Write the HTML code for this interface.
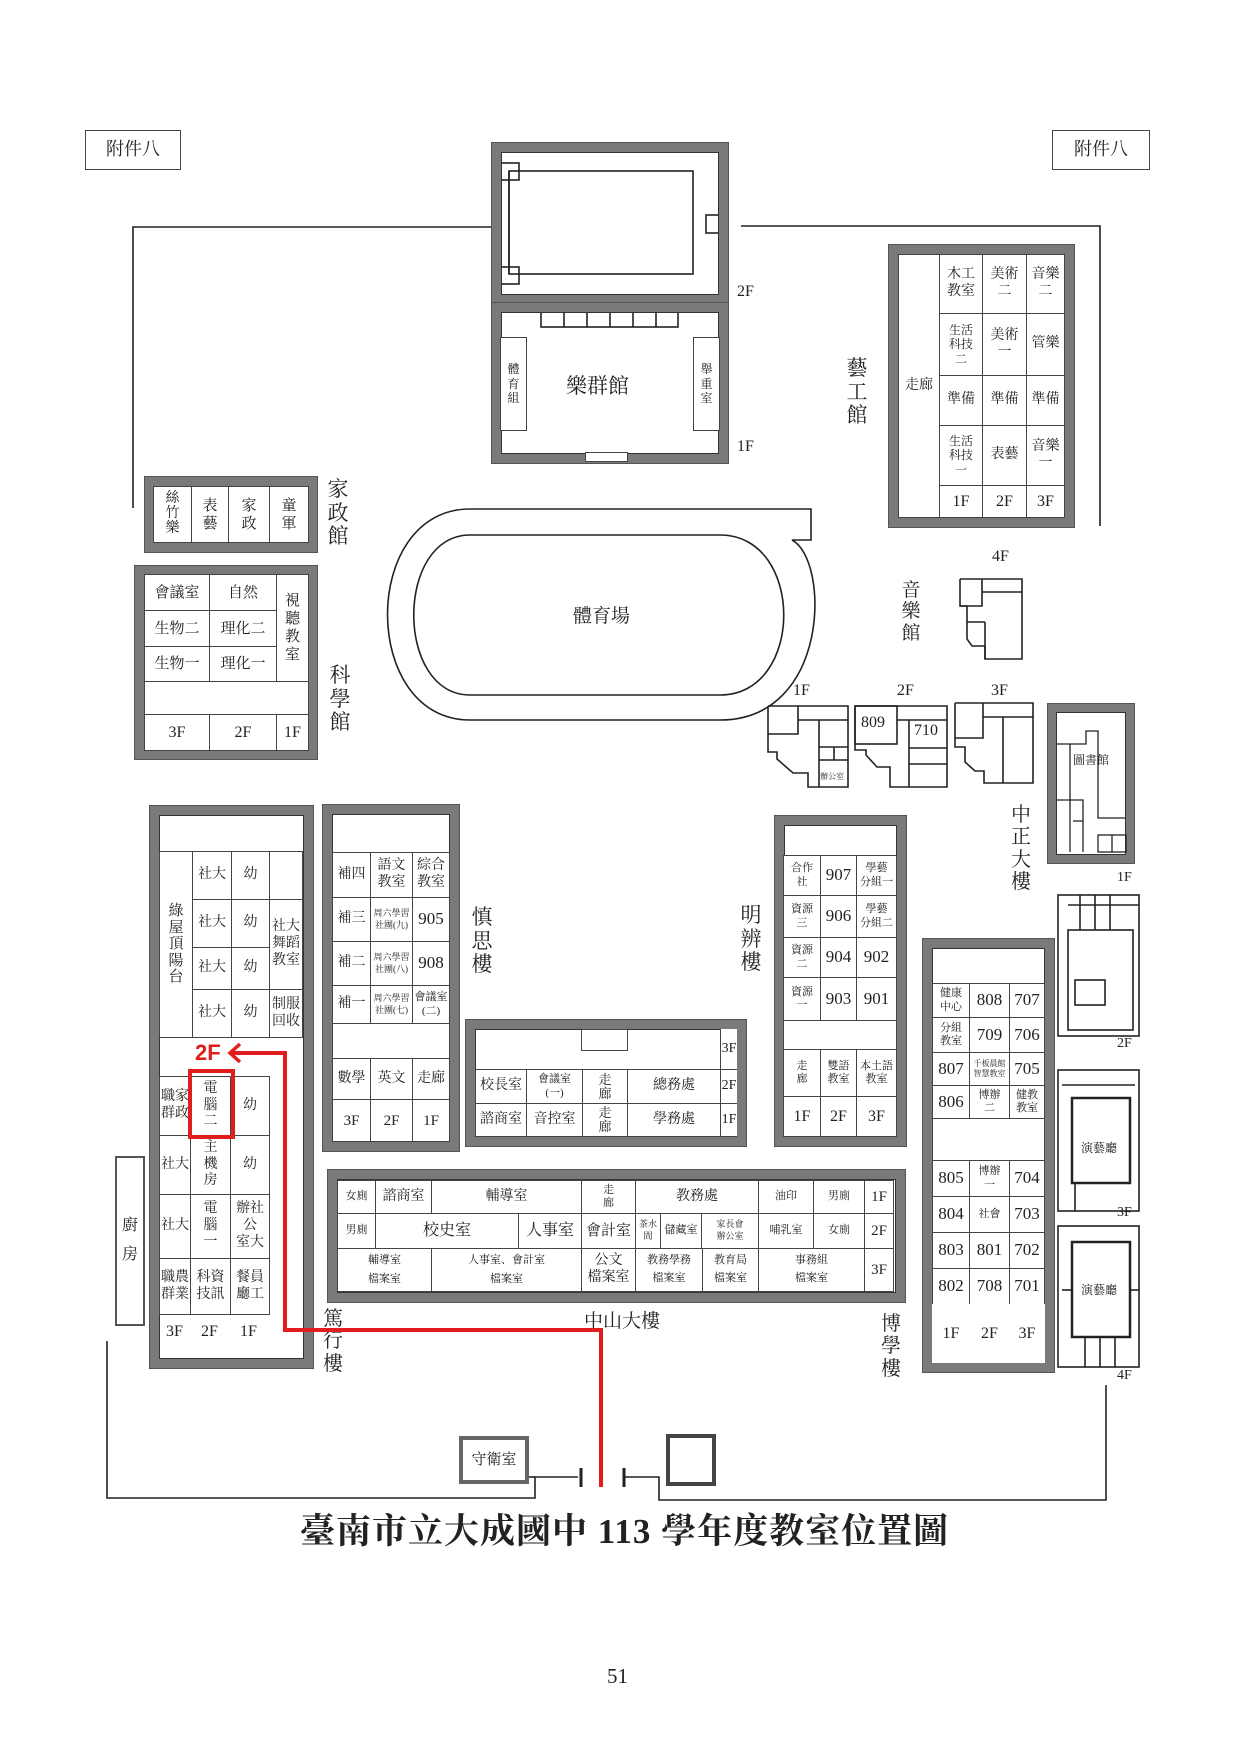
<!DOCTYPE html>
<html><head><meta charset="utf-8">
<style>
body{margin:0;background:#fff}
#p{position:relative;width:1241px;height:1755px;overflow:hidden;background:#fff;font-family:"Liberation Serif","Noto Serif CJK SC",serif;color:#222}
.b{position:absolute;box-sizing:border-box;border:9px solid #7a7a7a;background:#fff;box-shadow:0 0 0 1px #555,inset 0 0 0 1px #333}
.c{position:absolute;box-sizing:border-box;border:1px solid #444;display:flex;align-items:center;justify-content:center;text-align:center;font-size:14px;line-height:1.2;background:#fff}
.n{border:none}
.s{font-size:9px;line-height:1.3}
.m{font-size:11px}
.L{font-size:17px}
.v{position:absolute;width:22px;font-size:21px;line-height:1.12;text-align:center}
.t{position:absolute;font-size:15px}
svg{position:absolute;left:0;top:0}
</style></head><body><div id="p">

<svg width="1241" height="1755" fill="none" stroke="#222" stroke-width="1.6">
 <!-- boundary lines -->
 <polyline points="133,508 133,227 492,227"/>
 <polyline points="741,226 1100,226 1100,526"/>
 <polyline points="107,1341 107,1498 535,1498 535,1477 578,1477"/>
 <line x1="581" y1="1468" x2="581" y2="1487" stroke-width="3"/>
 <line x1="624" y1="1468" x2="624" y2="1487" stroke-width="3"/>
 <polyline points="624,1477 659,1477 659,1500 1106,1500 1106,1385"/>
 <!-- track -->
 <path d="M811,509 L470,509 C360,509 360,720 470,720 L720,720 C830,720 830,560 792,540 L811,540 Z"/>
 <path d="M470,535 C395,535 395,695 470,695 L720,695 C805,695 805,535 720,535 Z"/>
 <!-- music hall 4F -->
 <polyline points="960,579 1022,579 1022,659 985,659 985,646 972,646 967,639 967,606 960,606 960,579"/>
 <polyline points="982,579 982,606 960,606"/><line x1="982" y1="592" x2="1022" y2="592"/><line x1="967" y1="622" x2="985" y2="622"/><line x1="985" y1="622" x2="985" y2="659"/>
 <!-- 1F -->
 <polyline points="768,706 848,706 848,787 808,787 808,773 793,773 777,759 777,752 768,752 768,706"/>
 <polyline points="798,706 798,734 768,734"/><line x1="798" y1="720" x2="848" y2="720"/><line x1="819" y1="720" x2="819" y2="787"/><line x1="819" y1="747" x2="848" y2="747"/><line x1="819" y1="760" x2="848" y2="760"/><line x1="834" y1="747" x2="834" y2="760"/>
 <!-- 2F -->
 <polyline points="855,706 947,706 947,787 890,787 890,767 877,767 866,755 866,750 855,750 855,706"/>
 <rect x="855" y="706" width="42" height="38"/><line x1="897" y1="720" x2="947" y2="720"/><line x1="909" y1="720" x2="909" y2="787"/><line x1="909" y1="748" x2="947" y2="748"/><line x1="909" y1="764" x2="947" y2="764"/>
 <!-- 3F -->
 <polyline points="955,703 1033,703 1033,783 984,783 984,771 975,771 965,762 965,747 955,747 955,703"/>
 <polyline points="983,703 983,738 955,738"/><line x1="983" y1="717" x2="1033" y2="717"/><line x1="1003" y1="717" x2="1003" y2="783"/>
 <!-- gate boxes -->
 <rect x="668" y="1436" width="46" height="48" stroke="#444" stroke-width="4" fill="#fff"/>
 <!-- 樂群館 inner -->
 <rect x="509" y="171" width="184" height="103"/>
 <line x1="509" y1="171" x2="509" y2="274"/>
 <rect x="500" y="163" width="19" height="17"/><rect x="500" y="267" width="19" height="17"/><rect x="706" y="215" width="14" height="18"/>
 <rect x="541" y="310" width="137" height="17"/>
 <line x1="564" y1="310" x2="564" y2="327"/><line x1="587" y1="310" x2="587" y2="327"/><line x1="610" y1="310" x2="610" y2="327"/><line x1="633" y1="310" x2="633" y2="327"/><line x1="656" y1="310" x2="656" y2="327"/>
 <!-- right small buildings -->
 <rect x="1058" y="895" width="81" height="141"/><rect x="1068" y="930" width="65" height="100"/><line x1="1068" y1="905" x2="1139" y2="905"/><line x1="1080" y1="895" x2="1080" y2="930"/><line x1="1095" y1="895" x2="1095" y2="930"/><line x1="1110" y1="895" x2="1110" y2="930"/><rect x="1075" y="980" width="30" height="25"/>
 <rect x="1058" y="1070" width="81" height="141"/><rect x="1072" y="1098" width="58" height="85" stroke-width="2.5"/><line x1="1062" y1="1085" x2="1135" y2="1085"/><line x1="1075" y1="1183" x2="1075" y2="1211"/>
 <rect x="1058" y="1226" width="81" height="141"/><rect x="1072" y="1242" width="58" height="95" stroke-width="2.5"/><line x1="1062" y1="1290" x2="1072" y2="1290"/><line x1="1130" y1="1290" x2="1139" y2="1290"/><line x1="1085" y1="1337" x2="1085" y2="1367"/><line x1="1100" y1="1337" x2="1100" y2="1367"/><line x1="1115" y1="1337" x2="1115" y2="1367"/>
</svg>

<div class="c n" style="left:85px;top:130px;width:96px;height:40px;border:1px solid #444;font-size:18px">附件八</div>
<div class="c n" style="left:1052px;top:130px;width:98px;height:40px;border:1px solid #444;font-size:18px">附件八</div>

<!-- 樂群館 -->
<div class="b" style="left:492px;top:143px;width:236px;height:161px;background:transparent"></div>
<div class="b" style="left:492px;top:303px;width:236px;height:160px;background:transparent"></div>
<div class="c" style="left:500px;top:337px;width:27px;height:94px;font-size:12px">體<br>育<br>組</div>
<div class="c" style="left:693px;top:337px;width:27px;height:94px;font-size:12px">舉<br>重<br>室</div>
<div class="c" style="left:585px;top:452px;width:43px;height:10px;border-width:1px"></div>
<div class="t" style="left:566px;top:370px;font-size:21px">樂群館</div>
<div class="t" style="left:737px;top:283px;font-size:16px">2F</div>
<div class="t" style="left:737px;top:438px;font-size:16px">1F</div>

<!-- 藝工館 -->
<div class="b" style="left:889px;top:245px;width:185px;height:282px"></div>
<div class="c" style="left:898px;top:254px;width:42px;height:264px">走廊</div>
<div class="c" style="left:939px;top:254px;width:44px;height:60px">木工<br>教室</div>
<div class="c" style="left:982px;top:254px;width:45px;height:60px">美術<br>二</div>
<div class="c" style="left:1026px;top:254px;width:39px;height:60px">音樂<br>二</div>
<div class="c" style="left:939px;top:313px;width:44px;height:63px;font-size:12px">生活<br>科技<br>二</div>
<div class="c" style="left:982px;top:313px;width:45px;height:63px">美術<br>一</div>
<div class="c" style="left:1026px;top:313px;width:39px;height:63px">管樂</div>
<div class="c" style="left:939px;top:375px;width:44px;height:51px">準備</div>
<div class="c" style="left:982px;top:375px;width:45px;height:51px">準備</div>
<div class="c" style="left:1026px;top:375px;width:39px;height:51px">準備</div>
<div class="c" style="left:939px;top:425px;width:44px;height:61px;font-size:12px">生活<br>科技<br>一</div>
<div class="c" style="left:982px;top:425px;width:45px;height:61px">表藝</div>
<div class="c" style="left:1026px;top:425px;width:39px;height:61px">音樂<br>一</div>
<div class="c" style="left:939px;top:485px;width:44px;height:33px;font-size:16px">1F</div>
<div class="c" style="left:982px;top:485px;width:45px;height:33px;font-size:16px">2F</div>
<div class="c" style="left:1026px;top:485px;width:39px;height:33px;font-size:16px">3F</div>
<div class="v" style="left:846px;top:357px">藝<br>工<br>館</div>

<!-- 家政館 -->
<div class="b" style="left:145px;top:477px;width:172px;height:75px"></div>
<div class="c" style="left:153px;top:486px;width:39px;height:57px;font-size:14px;line-height:1.05">絲<br>竹<br>樂</div>
<div class="c" style="left:191px;top:486px;width:38px;height:57px;font-size:15px">表<br>藝</div>
<div class="c" style="left:228px;top:486px;width:42px;height:57px;font-size:15px">家<br>政</div>
<div class="c" style="left:269px;top:486px;width:40px;height:57px;font-size:15px">童<br>軍</div>
<div class="v" style="left:327px;top:478px">家<br>政<br>館</div>

<!-- 科學館 -->
<div class="b" style="left:135px;top:566px;width:182px;height:193px"></div>
<div class="c" style="left:144px;top:574px;width:66px;height:37px;font-size:15px">會議室</div>
<div class="c" style="left:209px;top:574px;width:68px;height:37px;font-size:15px">自然</div>
<div class="c" style="left:276px;top:574px;width:33px;height:108px;font-size:15px">視<br>聽<br>教<br>室</div>
<div class="c" style="left:144px;top:610px;width:66px;height:37px;font-size:15px">生物二</div>
<div class="c" style="left:209px;top:610px;width:68px;height:37px;font-size:15px">理化二</div>
<div class="c" style="left:144px;top:646px;width:66px;height:36px;font-size:15px">生物一</div>
<div class="c" style="left:209px;top:646px;width:68px;height:36px;font-size:15px">理化一</div>
<div class="c" style="left:144px;top:681px;width:165px;height:34px"></div>
<div class="c" style="left:144px;top:714px;width:66px;height:37px;font-size:16px">3F</div>
<div class="c" style="left:209px;top:714px;width:68px;height:37px;font-size:16px">2F</div>
<div class="c" style="left:276px;top:714px;width:33px;height:37px;font-size:16px">1F</div>
<div class="v" style="left:329px;top:664px">科<br>學<br>館</div>

<div class="t" style="left:573px;top:601px;font-size:19px">體育場</div>
<div class="v" style="left:900px;top:580px;font-size:19px">音<br>樂<br>館</div>
<div class="t" style="left:992px;top:548px;font-size:16px">4F</div>
<div class="t" style="left:793px;top:682px;font-size:16px">1F</div>
<div class="t" style="left:897px;top:682px;font-size:16px">2F</div>
<div class="t" style="left:991px;top:682px;font-size:16px">3F</div>
<div class="t" style="left:861px;top:714px;font-size:16px">809</div>
<div class="t" style="left:914px;top:722px;font-size:16px">710</div>
<div class="t" style="left:820px;top:771px;font-size:8px">辦公室</div>

<!-- 圖書館 -->
<div class="b" style="left:1048px;top:704px;width:86px;height:159px;border-width:8px"></div>
<svg width="1241" height="1755" fill="none" stroke="#222" stroke-width="1.3">
 <polyline points="1057,744 1086,744 1086,731 1098,731 1098,818 1126,818"/>
 <line x1="1070" y1="744" x2="1070" y2="852"/>
 <polyline points="1057,800 1083,800 1083,852"/><line x1="1073" y1="821" x2="1083" y2="821"/>
 <rect x="1098" y="835" width="28" height="17"/><line x1="1112" y1="835" x2="1112" y2="852"/>
</svg>
<div class="t" style="left:1073px;top:751px;font-size:12px">圖書館</div>
<div class="v" style="left:1010px;top:804px;font-size:20px">中<br>正<br>大<br>樓</div>
<div class="t" style="left:1117px;top:870px;font-size:14px">1F</div>
<div class="t" style="left:1117px;top:1036px;font-size:14px">2F</div>
<div class="t" style="left:1117px;top:1205px;font-size:14px">3F</div>
<div class="t" style="left:1117px;top:1368px;font-size:14px">4F</div>
<div class="t" style="left:1081px;top:1139px;font-size:12px">演藝廳</div>
<div class="t" style="left:1081px;top:1281px;font-size:12px">演藝廳</div>

<!-- 篤行樓 -->
<div class="b" style="left:150px;top:806px;width:163px;height:562px"></div>
<div class="c" style="left:159px;top:851px;width:34px;height:187px;font-size:15px;line-height:1.1">綠<br>屋<br>頂<br>陽<br>台</div>
<div class="c" style="left:192px;top:851px;width:40px;height:49px">社大</div>
<div class="c" style="left:231px;top:851px;width:39px;height:49px">幼</div>
<div class="c" style="left:269px;top:851px;width:34px;height:49px"></div>
<div class="c" style="left:192px;top:899px;width:40px;height:49px">社大</div>
<div class="c" style="left:231px;top:899px;width:39px;height:49px">幼</div>
<div class="c" style="left:269px;top:899px;width:34px;height:91px">社大<br>舞蹈<br>教室</div>
<div class="c" style="left:192px;top:947px;width:40px;height:43px">社大</div>
<div class="c" style="left:231px;top:947px;width:39px;height:43px">幼</div>
<div class="c" style="left:192px;top:989px;width:40px;height:49px">社大</div>
<div class="c" style="left:231px;top:989px;width:39px;height:49px">幼</div>
<div class="c" style="left:269px;top:989px;width:34px;height:49px">制服<br>回收</div>
<div class="c" style="left:159px;top:1076px;width:32px;height:60px">職家<br>群政</div>
<div class="c" style="left:190px;top:1076px;width:41px;height:60px">電<br>腦<br>二</div>
<div class="c" style="left:230px;top:1076px;width:40px;height:60px">幼</div>
<div class="c" style="left:159px;top:1135px;width:32px;height:60px">社大</div>
<div class="c" style="left:190px;top:1135px;width:41px;height:60px">主<br>機<br>房</div>
<div class="c" style="left:230px;top:1135px;width:40px;height:60px">幼</div>
<div class="c" style="left:159px;top:1194px;width:32px;height:65px">社大</div>
<div class="c" style="left:190px;top:1194px;width:41px;height:65px">電<br>腦<br>一</div>
<div class="c" style="left:230px;top:1194px;width:40px;height:65px">辦社<br>公<br>室大</div>
<div class="c" style="left:159px;top:1258px;width:32px;height:57px">職農<br>群業</div>
<div class="c" style="left:190px;top:1258px;width:41px;height:57px">科資<br>技訊</div>
<div class="c" style="left:230px;top:1258px;width:40px;height:57px">餐員<br>廳工</div>
<div class="t" style="left:166px;top:1323px;font-size:16px">3F</div>
<div class="t" style="left:201px;top:1323px;font-size:16px">2F</div>
<div class="t" style="left:240px;top:1323px;font-size:16px">1F</div>
<div class="v" style="left:322px;top:1308px;font-size:20px">篤<br>行<br>樓</div>
<div class="c" style="left:115px;top:1156px;width:30px;height:170px;border:2px solid #555;font-size:16px;line-height:1.8">廚<br>房</div>

<!-- 慎思樓 -->
<div class="b" style="left:323px;top:805px;width:136px;height:346px"></div>
<div class="c" style="left:332px;top:852px;width:39px;height:46px">補四</div>
<div class="c" style="left:370px;top:852px;width:43px;height:46px">語文<br>教室</div>
<div class="c" style="left:412px;top:852px;width:38px;height:46px">綜合<br>教室</div>
<div class="c" style="left:332px;top:897px;width:39px;height:45px">補三</div>
<div class="c s" style="left:370px;top:897px;width:43px;height:45px">周六學習<br>社團(九)</div>
<div class="c L" style="left:412px;top:897px;width:38px;height:45px">905</div>
<div class="c" style="left:332px;top:941px;width:39px;height:45px">補二</div>
<div class="c s" style="left:370px;top:941px;width:43px;height:45px">周六學習<br>社團(八)</div>
<div class="c L" style="left:412px;top:941px;width:38px;height:45px">908</div>
<div class="c" style="left:332px;top:985px;width:39px;height:39px">補一</div>
<div class="c s" style="left:370px;top:985px;width:43px;height:39px">周六學習<br>社團(七)</div>
<div class="c m" style="left:412px;top:985px;width:38px;height:39px">會議室<br>(二)</div>
<div class="c" style="left:332px;top:1023px;width:118px;height:36px"></div>
<div class="c" style="left:332px;top:1058px;width:39px;height:42px">數學</div>
<div class="c" style="left:370px;top:1058px;width:43px;height:42px">英文</div>
<div class="c" style="left:412px;top:1058px;width:38px;height:42px">走廊</div>
<div class="c" style="left:332px;top:1099px;width:39px;height:43px;font-size:15px">3F</div>
<div class="c" style="left:370px;top:1099px;width:43px;height:43px;font-size:15px">2F</div>
<div class="c" style="left:412px;top:1099px;width:38px;height:43px;font-size:15px">1F</div>
<div class="v" style="left:471px;top:906px">慎<br>思<br>樓</div>

<!-- 校長室 building -->
<div class="b" style="left:466px;top:1020px;width:280px;height:126px"></div>
<div class="c" style="left:581px;top:1029px;width:47px;height:22px"></div>
<div class="c" style="left:720px;top:1029px;width:17px;height:41px;border-right:none;border-top:none">3F</div>
<div class="c" style="left:475px;top:1069px;width:52px;height:35px">校長室</div>
<div class="c m" style="left:526px;top:1069px;width:57px;height:35px">會議室<br>(一)</div>
<div class="c" style="left:582px;top:1069px;width:46px;height:35px;font-size:13px;line-height:1.05">走<br>廊</div>
<div class="c" style="left:627px;top:1069px;width:94px;height:35px">總務處</div>
<div class="c" style="left:720px;top:1069px;width:17px;height:35px;border-right:none">2F</div>
<div class="c" style="left:475px;top:1103px;width:52px;height:34px">諮商室</div>
<div class="c" style="left:526px;top:1103px;width:57px;height:34px">音控室</div>
<div class="c" style="left:582px;top:1103px;width:46px;height:34px;font-size:13px;line-height:1.05">走<br>廊</div>
<div class="c" style="left:627px;top:1103px;width:94px;height:34px">學務處</div>
<div class="c" style="left:720px;top:1103px;width:17px;height:34px;border-right:none">1F</div>

<!-- 明辨樓 -->
<div class="b" style="left:775px;top:816px;width:131px;height:330px"></div>
<div class="c m" style="left:783px;top:855px;width:38px;height:41px">合作<br>社</div>
<div class="c L" style="left:820px;top:855px;width:37px;height:41px">907</div>
<div class="c m" style="left:856px;top:855px;width:41px;height:41px">學藝<br>分組一</div>
<div class="c m" style="left:783px;top:895px;width:38px;height:43px">資源<br>三</div>
<div class="c L" style="left:820px;top:895px;width:37px;height:43px">906</div>
<div class="c m" style="left:856px;top:895px;width:41px;height:43px">學藝<br>分組二</div>
<div class="c m" style="left:783px;top:937px;width:38px;height:41px">資源<br>二</div>
<div class="c L" style="left:820px;top:937px;width:37px;height:41px">904</div>
<div class="c L" style="left:856px;top:937px;width:41px;height:41px">902</div>
<div class="c m" style="left:783px;top:977px;width:38px;height:44px">資源<br>一</div>
<div class="c L" style="left:820px;top:977px;width:37px;height:44px">903</div>
<div class="c L" style="left:856px;top:977px;width:41px;height:44px">901</div>
<div class="c" style="left:783px;top:1020px;width:114px;height:30px"></div>
<div class="c m" style="left:783px;top:1049px;width:38px;height:48px">走<br>廊</div>
<div class="c m" style="left:820px;top:1049px;width:37px;height:48px">雙語<br>教室</div>
<div class="c m" style="left:856px;top:1049px;width:41px;height:48px">本土語<br>教室</div>
<div class="c" style="left:783px;top:1096px;width:38px;height:41px;font-size:16px">1F</div>
<div class="c" style="left:820px;top:1096px;width:37px;height:41px;font-size:16px">2F</div>
<div class="c" style="left:856px;top:1096px;width:41px;height:41px;font-size:16px">3F</div>
<div class="v" style="left:740px;top:904px">明<br>辨<br>樓</div>

<!-- 中山大樓 -->
<div class="b" style="left:328px;top:1170px;width:577px;height:132px"></div>
<div class="c m" style="left:337px;top:1180px;width:39px;height:34px">女廁</div>
<div class="c" style="left:375px;top:1180px;width:57px;height:34px">諮商室</div>
<div class="c" style="left:431px;top:1180px;width:151px;height:34px">輔導室</div>
<div class="c m" style="left:581px;top:1180px;width:55px;height:34px">走<br>廊</div>
<div class="c" style="left:635px;top:1180px;width:124px;height:34px">教務處</div>
<div class="c m" style="left:758px;top:1180px;width:56px;height:34px">油印</div>
<div class="c m" style="left:813px;top:1180px;width:52px;height:34px">男廁</div>
<div class="c" style="left:864px;top:1180px;width:30px;height:34px;font-size:15px">1F</div>
<div class="c m" style="left:337px;top:1213px;width:39px;height:36px">男廁</div>
<div class="c" style="left:375px;top:1213px;width:144px;height:36px;font-size:16px">校史室</div>
<div class="c" style="left:518px;top:1213px;width:64px;height:36px;font-size:16px">人事室</div>
<div class="c" style="left:581px;top:1213px;width:55px;height:36px;font-size:15px">會計室</div>
<div class="c s" style="left:635px;top:1213px;width:26px;height:36px">茶水<br>間</div>
<div class="c m" style="left:660px;top:1213px;width:42px;height:36px">儲藏室</div>
<div class="c s" style="left:701px;top:1213px;width:58px;height:36px">家長會<br>辦公室</div>
<div class="c m" style="left:758px;top:1213px;width:56px;height:36px">哺乳室</div>
<div class="c m" style="left:813px;top:1213px;width:52px;height:36px">女廁</div>
<div class="c" style="left:864px;top:1213px;width:30px;height:36px;font-size:15px">2F</div>
<div class="c m" style="left:337px;top:1248px;width:95px;height:44px;line-height:1.7">輔導室<br>檔案室</div>
<div class="c m" style="left:431px;top:1248px;width:151px;height:44px;line-height:1.7">人事室、會計室<br>檔案室</div>
<div class="c" style="left:581px;top:1248px;width:55px;height:44px">公文<br>檔案室</div>
<div class="c m" style="left:635px;top:1248px;width:68px;height:44px;line-height:1.6">教務學務<br>檔案室</div>
<div class="c m" style="left:702px;top:1248px;width:57px;height:44px;line-height:1.6">教育局<br>檔案室</div>
<div class="c m" style="left:758px;top:1248px;width:107px;height:44px;line-height:1.6">事務組<br>檔案室</div>
<div class="c" style="left:864px;top:1248px;width:30px;height:44px;font-size:15px">3F</div>
<div class="t" style="left:584px;top:1306px;font-size:19px">中山大樓</div>

<!-- 博學樓 -->
<div class="b" style="left:923px;top:939px;width:131px;height:433px"></div>
<div class="c m" style="left:932px;top:983px;width:38px;height:35px">健康<br>中心</div>
<div class="c L" style="left:969px;top:983px;width:41px;height:35px">808</div>
<div class="c L" style="left:1009px;top:983px;width:36px;height:35px">707</div>
<div class="c m" style="left:932px;top:1017px;width:38px;height:36px">分組<br>教室</div>
<div class="c L" style="left:969px;top:1017px;width:41px;height:36px">709</div>
<div class="c L" style="left:1009px;top:1017px;width:36px;height:36px">706</div>
<div class="c L" style="left:932px;top:1052px;width:38px;height:34px">807</div>
<div class="c s" style="left:969px;top:1052px;width:41px;height:34px;font-size:8px">千板晨館<br>智慧教室</div>
<div class="c L" style="left:1009px;top:1052px;width:36px;height:34px">705</div>
<div class="c L" style="left:932px;top:1085px;width:38px;height:34px">806</div>
<div class="c m" style="left:969px;top:1085px;width:41px;height:34px">博辦<br>二</div>
<div class="c m" style="left:1009px;top:1085px;width:36px;height:34px">健教<br>教室</div>
<div class="c" style="left:932px;top:1118px;width:113px;height:43px"></div>
<div class="c L" style="left:932px;top:1160px;width:38px;height:37px">805</div>
<div class="c m" style="left:969px;top:1160px;width:41px;height:37px">博辦<br>一</div>
<div class="c L" style="left:1009px;top:1160px;width:36px;height:37px">704</div>
<div class="c L" style="left:932px;top:1196px;width:38px;height:37px">804</div>
<div class="c m" style="left:969px;top:1196px;width:41px;height:37px">社會</div>
<div class="c L" style="left:1009px;top:1196px;width:36px;height:37px">703</div>
<div class="c L" style="left:932px;top:1232px;width:38px;height:37px">803</div>
<div class="c L" style="left:969px;top:1232px;width:41px;height:37px">801</div>
<div class="c L" style="left:1009px;top:1232px;width:36px;height:37px">702</div>
<div class="c L" style="left:932px;top:1268px;width:38px;height:37px">802</div>
<div class="c L" style="left:969px;top:1268px;width:41px;height:37px">708</div>
<div class="c L" style="left:1009px;top:1268px;width:36px;height:37px">701</div>
<div class="c n" style="left:932px;top:1304px;width:38px;height:59px;font-size:16px">1F</div>
<div class="c n" style="left:969px;top:1304px;width:41px;height:59px;font-size:16px">2F</div>
<div class="c n" style="left:1009px;top:1304px;width:36px;height:59px;font-size:16px">3F</div>
<div class="v" style="left:880px;top:1313px;font-size:20px">博<br>學<br>樓</div>

<!-- gate -->
<div class="c" style="left:459px;top:1436px;width:70px;height:48px;border:4px solid #666;font-size:15px">守衛室</div>
<svg width="1241" height="1755" fill="none" stroke="#222" stroke-width="1.6"><polyline points="529,1477 535,1477"/></svg>

<!-- red route -->
<svg width="1241" height="1755" fill="none" stroke="#e11d1d" stroke-width="4">
 <polyline points="601,1487 601,1330 285,1330 285,1053 231,1053"/>
 <polyline points="240,1044 230,1053 240,1062" stroke-width="3.5"/>
 <rect x="190" y="1071" width="43" height="66"/>
</svg>
<div class="t" style="left:195px;top:1040px;color:#e11d1d;font-family:'Liberation Sans',sans-serif;font-weight:bold;font-size:22px">2F</div>

<div class="t" style="left:300px;top:1504px;font-size:35px;font-weight:bold;letter-spacing:1px;white-space:nowrap">臺南市立大成國中 113 學年度教室位置圖</div>
<div class="t" style="left:607px;top:1664px;font-size:21px">51</div>
</div></body></html>
